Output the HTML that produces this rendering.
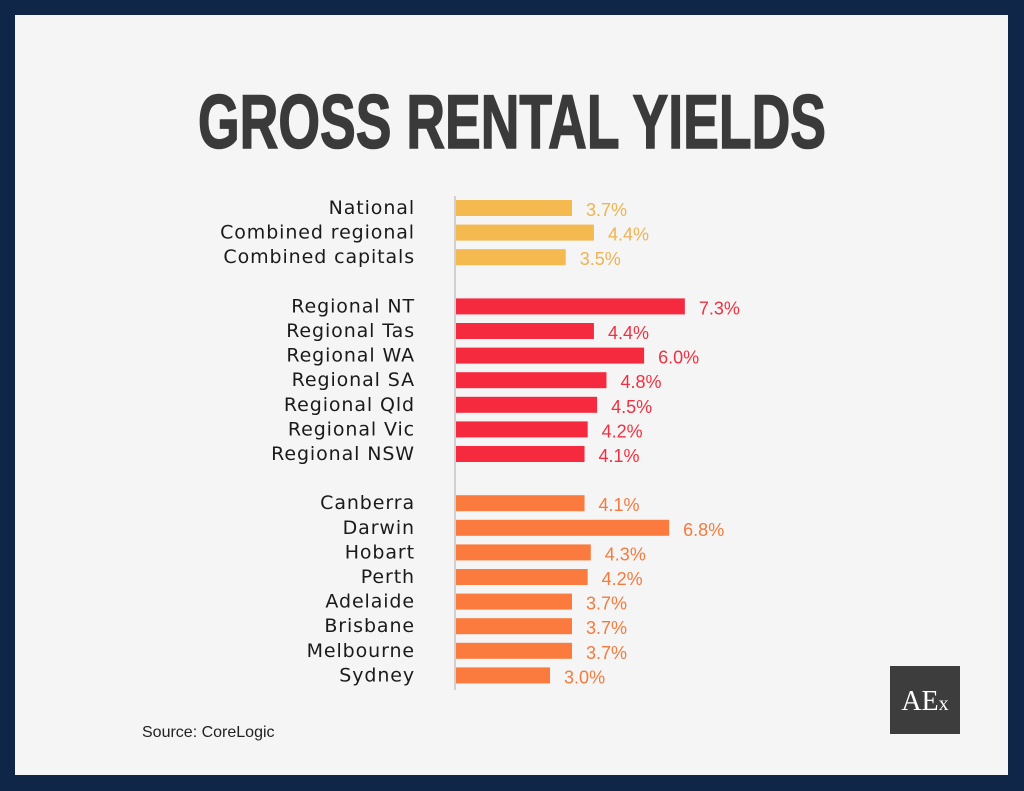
<!DOCTYPE html>
<html><head><meta charset="utf-8"><style>
body{margin:0;background:#0f2648;width:1024px;height:791px;overflow:hidden}
svg{display:block}
</style></head><body>
<svg width="1024" height="791">
<rect x="0" y="0" width="1024" height="791" fill="#0f2648"/>
<rect x="15" y="15" width="993" height="760" fill="#f5f5f5"/>
<text x="512" y="148" text-anchor="middle" font-family="'Liberation Sans Narrow','Liberation Sans',sans-serif" font-weight="bold" font-size="76" fill="#3a3a3a" stroke="#3a3a3a" stroke-width="1.5" textLength="628" lengthAdjust="spacingAndGlyphs">GROSS RENTAL YIELDS</text>
<line x1="455" y1="196" x2="455" y2="690" stroke="#d0d0d0" stroke-width="2"/>
<g id="bars"></g>
<text x="142" y="737" font-family="'Liberation Sans',sans-serif" font-size="16" fill="#222">Source: CoreLogic</text>
<rect x="890" y="666" width="70" height="68" fill="#3d3d3d"/>
<text x="925" y="710" text-anchor="middle" font-family="'Liberation Serif',serif" font-size="28" fill="#fff">AE<tspan font-size="20">x</tspan></text>
</svg>
<script>
const categories=["National","Combined regional","Combined capitals","Regional NT","Regional Tas","Regional WA","Regional SA","Regional Qld","Regional Vic","Regional NSW","Canberra","Darwin","Hobart","Perth","Adelaide","Brisbane","Melbourne","Sydney"];
const values=[3.7,4.4,3.5,7.3,4.4,6.0,4.8,4.5,4.2,4.1,4.1,6.8,4.3,4.2,3.7,3.7,3.7,3.0];
const groups=[0,0,0,1,1,1,1,1,1,1,2,2,2,2,2,2,2,2];
const colors=["#f4b94f","#f62a3f","#fb7b3e"];
const textColors=["#efb34f","#f03040","#f47a3e"];
const x0=456,scale=31.35;
function xs(v){return x0+v*scale;}
function ys(i){const g=groups[i];return 208+i*24.6+g*24.6;}
const g=document.getElementById('bars');
const ns='http://www.w3.org/2000/svg';
categories.forEach((c,i)=>{
 const y=ys(i);
 const r=document.createElementNS(ns,'rect');
 r.setAttribute('x',x0);r.setAttribute('y',y-8);r.setAttribute('width',xs(values[i])-x0);r.setAttribute('height',16);r.setAttribute('fill',colors[groups[i]]);
 
 
 g.appendChild(r);
 const l=document.createElementNS(ns,'text');
 l.setAttribute('x',415);l.setAttribute('y',y+6);l.setAttribute('text-anchor','end');
 l.setAttribute('font-family',"'DejaVu Sans',sans-serif");l.setAttribute('font-size','19');l.setAttribute('letter-spacing','0.9');l.setAttribute('fill','#1a1a1a');
 l.textContent=c;
 
 
 g.appendChild(l);
 const v=document.createElementNS(ns,'text');
 v.setAttribute('x',xs(values[i])+14);v.setAttribute('y',y+8);
 v.setAttribute('font-family',"'Liberation Sans',sans-serif");v.setAttribute('font-size','18');v.setAttribute('fill',textColors[groups[i]]);
 v.textContent=values[i].toFixed(1)+'%';
 
 
 g.appendChild(v);
});
</script>
</body></html>
